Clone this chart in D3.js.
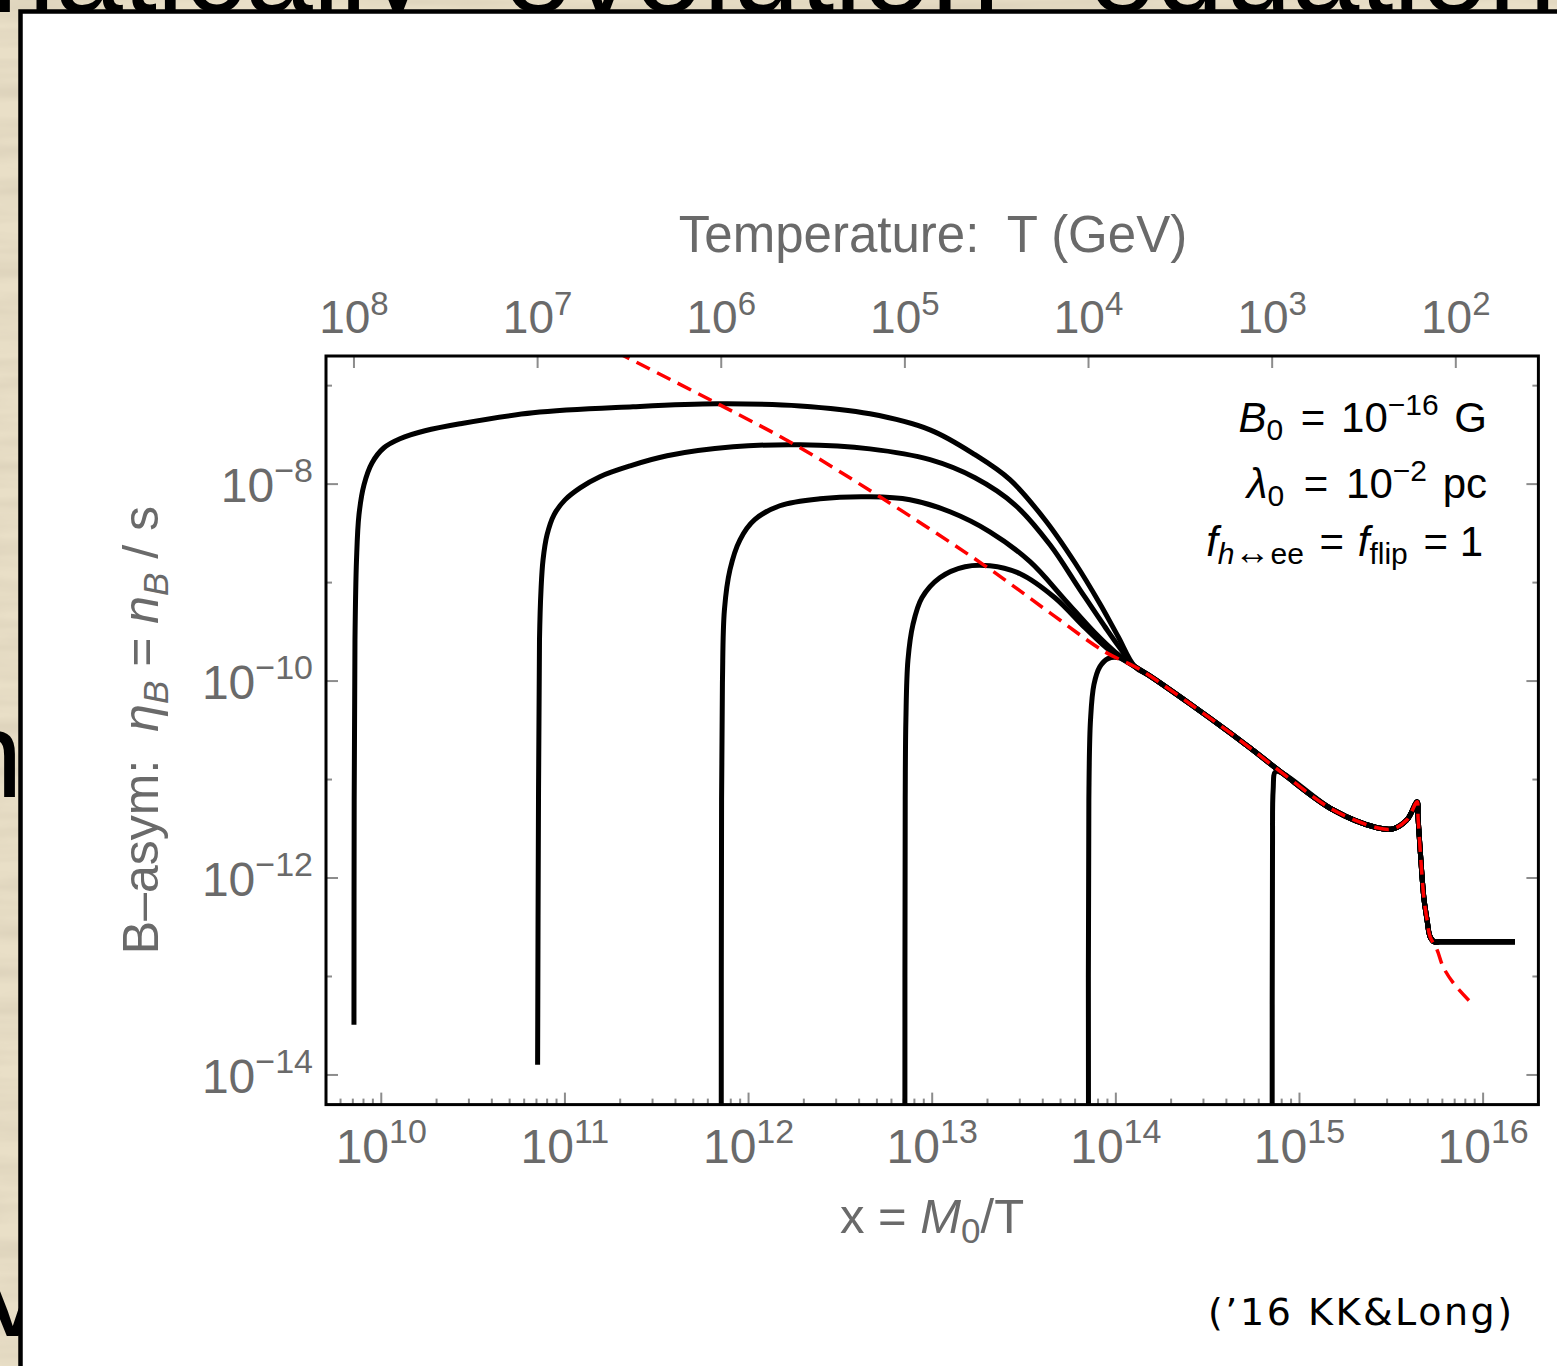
<!DOCTYPE html>
<html>
<head>
<meta charset="utf-8">
<script src="https://cdn.jsdelivr.net/npm/d3@7"></script>
<style>
  html, body { margin: 0; padding: 0; background: #e9dfc7; }
  svg { display: block; }
</style>
</head>
<body>
<svg id="chart" width="1557" height="1366"></svg>
<script>
// ---- data -------------------------------------------------------------
// x = M0 / T ; M0 in GeV
const M0 = 7.1e17;

const xTickValues = [1e10, 1e11, 1e12, 1e13, 1e14, 1e15, 1e16];
const xTickExponents = ["10", "11", "12", "13", "14", "15", "16"];
const tTickValues = [1e8, 1e7, 1e6, 1e5, 1e4, 1e3, 1e2];
const tTickExponents = ["8", "7", "6", "5", "4", "3", "2"];
const yTickValues = [1e-7, 1e-8, 1e-9, 1e-10, 1e-11, 1e-12, 1e-13, 1e-14];
const yLabelValues = [1e-8, 1e-10, 1e-12, 1e-14];
const yLabelExponents = ["\u22128", "\u221210", "\u221212", "\u221214"];

// baryon asymmetry for initial temperatures T = 1e8 ... 1e3 GeV  [x, eta_B]
const run1e8 = [
  [7.10e9, 3.24e-14], [7.12e9, 6.27e-12], [7.19e9, 2.62e-10], [7.33e9, 1.70e-9],
  [7.56e9, 4.88e-9], [8.05e9, 9.84e-9], [8.90e9, 1.64e-8], [1.034e10, 2.34e-8],
  [1.264e10, 2.89e-8], [1.73e10, 3.48e-8], [2.68e10, 4.10e-8], [6.70e10, 5.30e-8],
  [2.35e11, 6.10e-8], [6.74e11, 6.53e-8], [1.91e12, 6.23e-8], [4.58e12, 5.18e-8],
  [9.73e12, 3.56e-8], [1.71e13, 1.99e-8], [2.65e13, 1.11e-8], [4.11e13, 4.35e-9],
  [5.99e13, 1.59e-9], [8.19e13, 6.10e-10], [1.03e14, 2.82e-10], [1.27e14, 1.40e-10]
];
const run1e7 = [
  [7.10e10, 1.27e-14], [7.18e10, 6.27e-12], [7.27e10, 2.62e-10], [7.41e10, 8.45e-10],
  [7.60e10, 1.70e-9], [7.99e10, 3.05e-9], [8.72e10, 4.88e-9], [1.001e11, 6.92e-9],
  [1.21e11, 9.16e-9], [1.55e11, 1.19e-8], [2.26e11, 1.53e-8], [3.60e11, 1.94e-8],
  [8.23e11, 2.39e-8], [1.91e12, 2.51e-8], [4.58e12, 2.28e-8], [9.73e12, 1.77e-8],
  [1.71e13, 1.16e-8], [2.82e13, 6.17e-9], [4.38e13, 2.42e-9], [6.38e13, 8.45e-10],
  [8.72e13, 3.56e-10], [1.05e14, 2.18e-10], [1.27e14, 1.40e-10]
];
const run1e6 = [
  [7.10e11, 1e-15], [7.13e11, 6.27e-12], [7.21e11, 1.03e-10], [7.39e11, 5.30e-10],
  [7.92e11, 1.35e-9], [8.98e11, 2.72e-9], [1.08e12, 4.35e-9], [1.48e12, 6.03e-9],
  [2.45e12, 7.10e-9], [4.58e12, 7.43e-9], [7.57e12, 6.93e-9], [1.25e13, 5.24e-9],
  [2.06e13, 3.28e-9], [3.41e13, 1.63e-9], [5.28e13, 6.68e-10], [7.69e13, 3.09e-10],
  [9.89e13, 1.98e-10], [1.27e14, 1.40e-10]
];
const run1e5 = [
  [7.10e12, 1e-15], [7.13e12, 6.27e-12], [7.19e12, 4.05e-11], [7.38e12, 1.64e-10],
  [7.85e12, 3.73e-10], [8.79e12, 7.01e-10], [1.10e13, 1.12e-9], [1.51e13, 1.45e-9],
  [2.06e13, 1.48e-9], [3.01e13, 1.23e-9], [4.66e13, 7.01e-10], [6.79e13, 3.48e-10],
  [9.29e13, 2.03e-10], [1.27e14, 1.40e-10]
];
const run1e4 = [
  [7.10e13, 1e-15], [7.13e13, 6.27e-12], [7.28e13, 4.05e-11], [7.60e13, 9.22e-11],
  [8.19e13, 1.40e-10], [9.06e13, 1.69e-10], [1.03e14, 1.73e-10], [1.27e14, 1.40e-10]
];
const run1e3 = [
  [7.10e14, 1e-15], [7.13e14, 1.94e-12], [7.19e14, 7.91e-12], [7.40e14, 1.20e-11]
];
// common late-time evolution shared by all runs
const commonTail = [
  [1.53e14, 1.13e-10], [2.53e14, 5.89e-11], [4.18e14, 2.99e-11], [5.37e14, 2.10e-11],
  [8.13e14, 1.15e-11], [1.52e15, 4.93e-12], [2.65e15, 3.24e-12], [3.23e15, 3.16e-12],
  [3.85e15, 3.90e-12], [4.37e15, 5.94e-12], [4.42e15, 4.19e-12], [4.54e15, 1.94e-12],
  [4.65e15, 1.03e-12], [4.77e15, 6.02e-13], [4.95e15, 3.77e-13], [5.14e15, 2.54e-13],
  [5.41e15, 2.25e-13], [5.80e15, 2.25e-13], [7.0e15, 2.25e-13], [1.0e16, 2.25e-13],
  [1.49e16, 2.25e-13]
];
// analytic estimate (red dashed)
const analytic = [
  [1.90e11, 2.20e-7], [6.98e11, 6.38e-8], [1.83e12, 2.45e-8], [5.19e12, 7.43e-9],
  [1.94e13, 1.48e-9], [4.38e13, 4.93e-10], [8.72e13, 1.98e-10], [1.27e14, 1.40e-10],
  [1.53e14, 1.13e-10], [2.53e14, 5.89e-11], [4.18e14, 2.99e-11], [5.37e14, 2.10e-11],
  [8.13e14, 1.15e-11], [1.52e15, 4.93e-12], [2.65e15, 3.24e-12], [3.23e15, 3.16e-12],
  [3.85e15, 3.90e-12], [4.37e15, 5.94e-12], [4.42e15, 4.19e-12], [4.54e15, 1.94e-12],
  [4.65e15, 1.03e-12], [4.77e15, 6.02e-13], [4.95e15, 3.77e-13], [5.14e15, 2.54e-13],
  [5.61e15, 1.87e-13], [6.05e15, 1.26e-13], [6.86e15, 8.66e-14], [8.49e15, 5.55e-14]
];

// ---- layout -----------------------------------------------------------
const W = 1557, H = 1366;
const plot = { left: 326, right: 1538.4, top: 356, bottom: 1104.6 };
const tickGray = "#8c8c8c";
const labelGray = "#6a6a6a";
const sans = "'Liberation Sans', Arial, Helvetica, sans-serif";

const svg = d3.select("#chart");
const defs = svg.append("defs");

// paper grain of the slide background
const grain = defs.append("filter").attr("id", "grain")
  .attr("x", 0).attr("y", 0).attr("width", "100%").attr("height", "100%");
grain.append("feTurbulence").attr("type", "fractalNoise")
  .attr("baseFrequency", "0.006 0.05").attr("numOctaves", 3).attr("seed", 11).attr("result", "n");
grain.append("feColorMatrix").attr("in", "n").attr("type", "matrix")
  .attr("values", "0 0 0 0 0.62  0 0 0 0 0.55  0 0 0 0 0.42  0.9 0 0 0 -0.3");

svg.append("rect").attr("width", W).attr("height", H).attr("fill", "#e9dfc7");
svg.append("rect").attr("width", W).attr("height", H).attr("filter", "url(#grain)");

// slide text sitting behind the white panel
const slideText = svg.append("g").attr("font-family", sans).attr("font-size", 122).attr("fill", "#000");
slideText.append("text").attr("x", 428).attr("y", 12).attr("text-anchor", "end").text("Schematically");
slideText.append("text").attr("x", 503).attr("y", 12).attr("textLength", 497).attr("lengthAdjust", "spacingAndGlyphs").text("evolution");
slideText.append("text").attr("x", 1088).attr("y", 12).text("equation");
slideText.append("text").attr("x", -45).attr("y", 797).text("n");
slideText.append("text").attr("x", -28).attr("y", 1336).text("V");

// white panel
svg.append("rect")
  .attr("x", 20.5).attr("y", 11.5).attr("width", 1700).attr("height", 1500)
  .attr("fill", "#fff").attr("stroke", "#000").attr("stroke-width", 4.5);

// ---- scales -----------------------------------------------------------
const x = d3.scaleLog().domain([5e9, 2e16]).range([plot.left, plot.right]);
const y = d3.scaleLog().domain([5e-15, 2e-7]).range([plot.bottom, plot.top]);
const tScale = d3.scaleLog().domain([M0 / 5e9, M0 / 2e16]).range([plot.left, plot.right]);

defs.append("clipPath").attr("id", "plotClip").append("rect")
  .attr("x", plot.left).attr("y", plot.top)
  .attr("width", plot.right - plot.left).attr("height", plot.bottom - plot.top);

// ---- ticks ------------------------------------------------------------
const ticks = svg.append("g").attr("stroke", tickGray).attr("stroke-width", 2);

// bottom: decades long, 2..9 short
const xAll = x.ticks().filter(v => v >= 5e9 && v <= 2e16);
ticks.selectAll("line.xb").data(xAll).join("line")
  .attr("x1", d => x(d)).attr("x2", d => x(d))
  .attr("y1", plot.bottom)
  .attr("y2", d => plot.bottom - (xTickValues.some(t => Math.abs(t / d - 1) < 1e-6) ? 12 : 6));

// top: temperature decades
ticks.selectAll("line.xt").data(tTickValues).join("line")
  .attr("x1", d => tScale(d)).attr("x2", d => tScale(d))
  .attr("y1", plot.top).attr("y2", plot.top + 12);

// left and right
const isLabelled = d => yLabelValues.some(t => Math.abs(t / d - 1) < 1e-6);
ticks.selectAll("line.yl").data(yTickValues).join("line")
  .attr("x1", plot.left).attr("x2", d => plot.left + (isLabelled(d) ? 12 : 6))
  .attr("y1", d => y(d)).attr("y2", d => y(d));
ticks.selectAll("line.yr").data(yTickValues).join("line")
  .attr("x1", plot.right).attr("x2", d => plot.right - (isLabelled(d) ? 12 : 6))
  .attr("y1", d => y(d)).attr("y2", d => y(d));

// ---- curves -----------------------------------------------------------
const line = d3.line()
  .x(d => x(d[0])).y(d => y(d[1]))
  .curve(d3.curveCatmullRom.alpha(0.5));

const curves = svg.append("g").attr("clip-path", "url(#plotClip)");
[run1e8, run1e7, run1e6, run1e5, run1e4, run1e3].forEach(run => {
  const last = run[run.length - 1][0];
  curves.append("path")
    .datum(run.concat(commonTail.filter(p => p[0] > last)))
    .attr("d", line)
    .attr("fill", "none").attr("stroke", "#000").attr("stroke-width", 5)
    .attr("stroke-linejoin", "round");
});
curves.append("path")
  .datum(analytic)
  .attr("d", line)
  .attr("fill", "none").attr("stroke", "#ff0000").attr("stroke-width", 3.5)
  .attr("stroke-dasharray", "15 8");

// frame
svg.append("rect")
  .attr("x", plot.left).attr("y", plot.top)
  .attr("width", plot.right - plot.left).attr("height", plot.bottom - plot.top)
  .attr("fill", "none").attr("stroke", "#000").attr("stroke-width", 3);

// ---- tick labels ------------------------------------------------------
function power(sel, exp, sup, rise) {
  sel.append("tspan").text("10");
  sel.append("tspan").attr("dy", -rise).attr("font-size", sup).text(exp);
}
const labels = svg.append("g").attr("font-family", sans).attr("fill", labelGray);

xTickValues.forEach((v, i) => {
  const t = labels.append("text").attr("x", x(v)).attr("y", 1163)
    .attr("text-anchor", "middle").attr("font-size", 48);
  power(t, xTickExponents[i], 34, 20);
});
tTickValues.forEach((v, i) => {
  const t = labels.append("text").attr("x", tScale(v)).attr("y", 333)
    .attr("text-anchor", "middle").attr("font-size", 46);
  power(t, tTickExponents[i], 33, 18);
});
yLabelValues.forEach((v, i) => {
  const t = labels.append("text").attr("x", 313).attr("y", y(v) + 18)
    .attr("text-anchor", "end").attr("font-size", 48);
  power(t, yLabelExponents[i], 34, 20);
});

// ---- axis titles ------------------------------------------------------
labels.append("text").attr("x", 933).attr("y", 252).attr("text-anchor", "middle")
  .attr("font-size", 51).text("Temperature:\u00a0 T (GeV)");

const xt = labels.append("text").attr("x", 932).attr("y", 1233).attr("text-anchor", "middle")
  .attr("font-size", 49);
xt.append("tspan").text("x = ");
xt.append("tspan").attr("font-style", "italic").text("M");
xt.append("tspan").attr("font-size", 35).attr("dy", 10).text("0");
xt.append("tspan").attr("dy", -10).text("/T");

const yt = labels.append("text").attr("transform", "translate(158,730) rotate(-90)")
  .attr("text-anchor", "middle").attr("font-size", 50);
yt.append("tspan").text("B\u2013asym:\u00a0 ");
yt.append("tspan").attr("font-style", "italic").text("\u03b7");
yt.append("tspan").attr("font-style", "italic").attr("font-size", 35).attr("dy", 10).text("B");
yt.append("tspan").attr("dy", -10).text(" = ");
yt.append("tspan").attr("font-style", "italic").text("n");
yt.append("tspan").attr("font-style", "italic").attr("font-size", 35).attr("dy", 10).text("B");
yt.append("tspan").attr("dy", -10).text(" / s");

// ---- parameter box ----------------------------------------------------
const note = svg.append("g").attr("font-family", sans).attr("fill", "#000").attr("font-size", 42)
  .attr("text-anchor", "end");
const l1 = note.append("text").attr("x", 1487).attr("y", 432);
l1.append("tspan").attr("font-style", "italic").text("B");
l1.append("tspan").attr("font-size", 30).attr("dy", 8).text("0");
l1.append("tspan").attr("dy", -8).attr("dx", 6).text(" = ");
l1.append("tspan").attr("dx", 4).text("10");
l1.append("tspan").attr("font-size", 30).attr("dy", -17).text("\u221216");
l1.append("tspan").attr("dy", 17).attr("dx", 4).text(" G");

const l2 = note.append("text").attr("x", 1487).attr("y", 498);
l2.append("tspan").attr("font-style", "italic").text("\u03bb");
l2.append("tspan").attr("font-size", 30).attr("dy", 8).text("0");
l2.append("tspan").attr("dy", -8).attr("dx", 8).text(" = ");
l2.append("tspan").attr("dx", 6).text("10");
l2.append("tspan").attr("font-size", 30).attr("dy", -17).text("\u22122");
l2.append("tspan").attr("dy", 17).attr("dx", 4).text(" pc");

const l3 = note.append("text").attr("x", 1483).attr("y", 556);
l3.append("tspan").attr("font-style", "italic").text("f");
l3.append("tspan").attr("font-size", 30).attr("dy", 8).attr("font-style", "italic").text("h");
l3.append("tspan").attr("font-size", 36).text("\u2194");
l3.append("tspan").attr("font-size", 30).text("ee");
l3.append("tspan").attr("dy", -8).attr("dx", 4).text(" = ");
l3.append("tspan").attr("dx", 2).attr("font-style", "italic").text("f");
l3.append("tspan").attr("font-size", 30).attr("dy", 8).text("flip");
l3.append("tspan").attr("dy", -8).attr("dx", 4).text(" = 1");

// reference
svg.append("text").attr("x", 1208).attr("y", 1325)
  .attr("font-family", "'DejaVu Sans', Verdana, sans-serif").attr("font-size", 38)
  .attr("textLength", 304).attr("lengthAdjust", "spacing")
  .attr("fill", "#000").text("(\u201916 KK&Long)");
</script>
</body>
</html>
